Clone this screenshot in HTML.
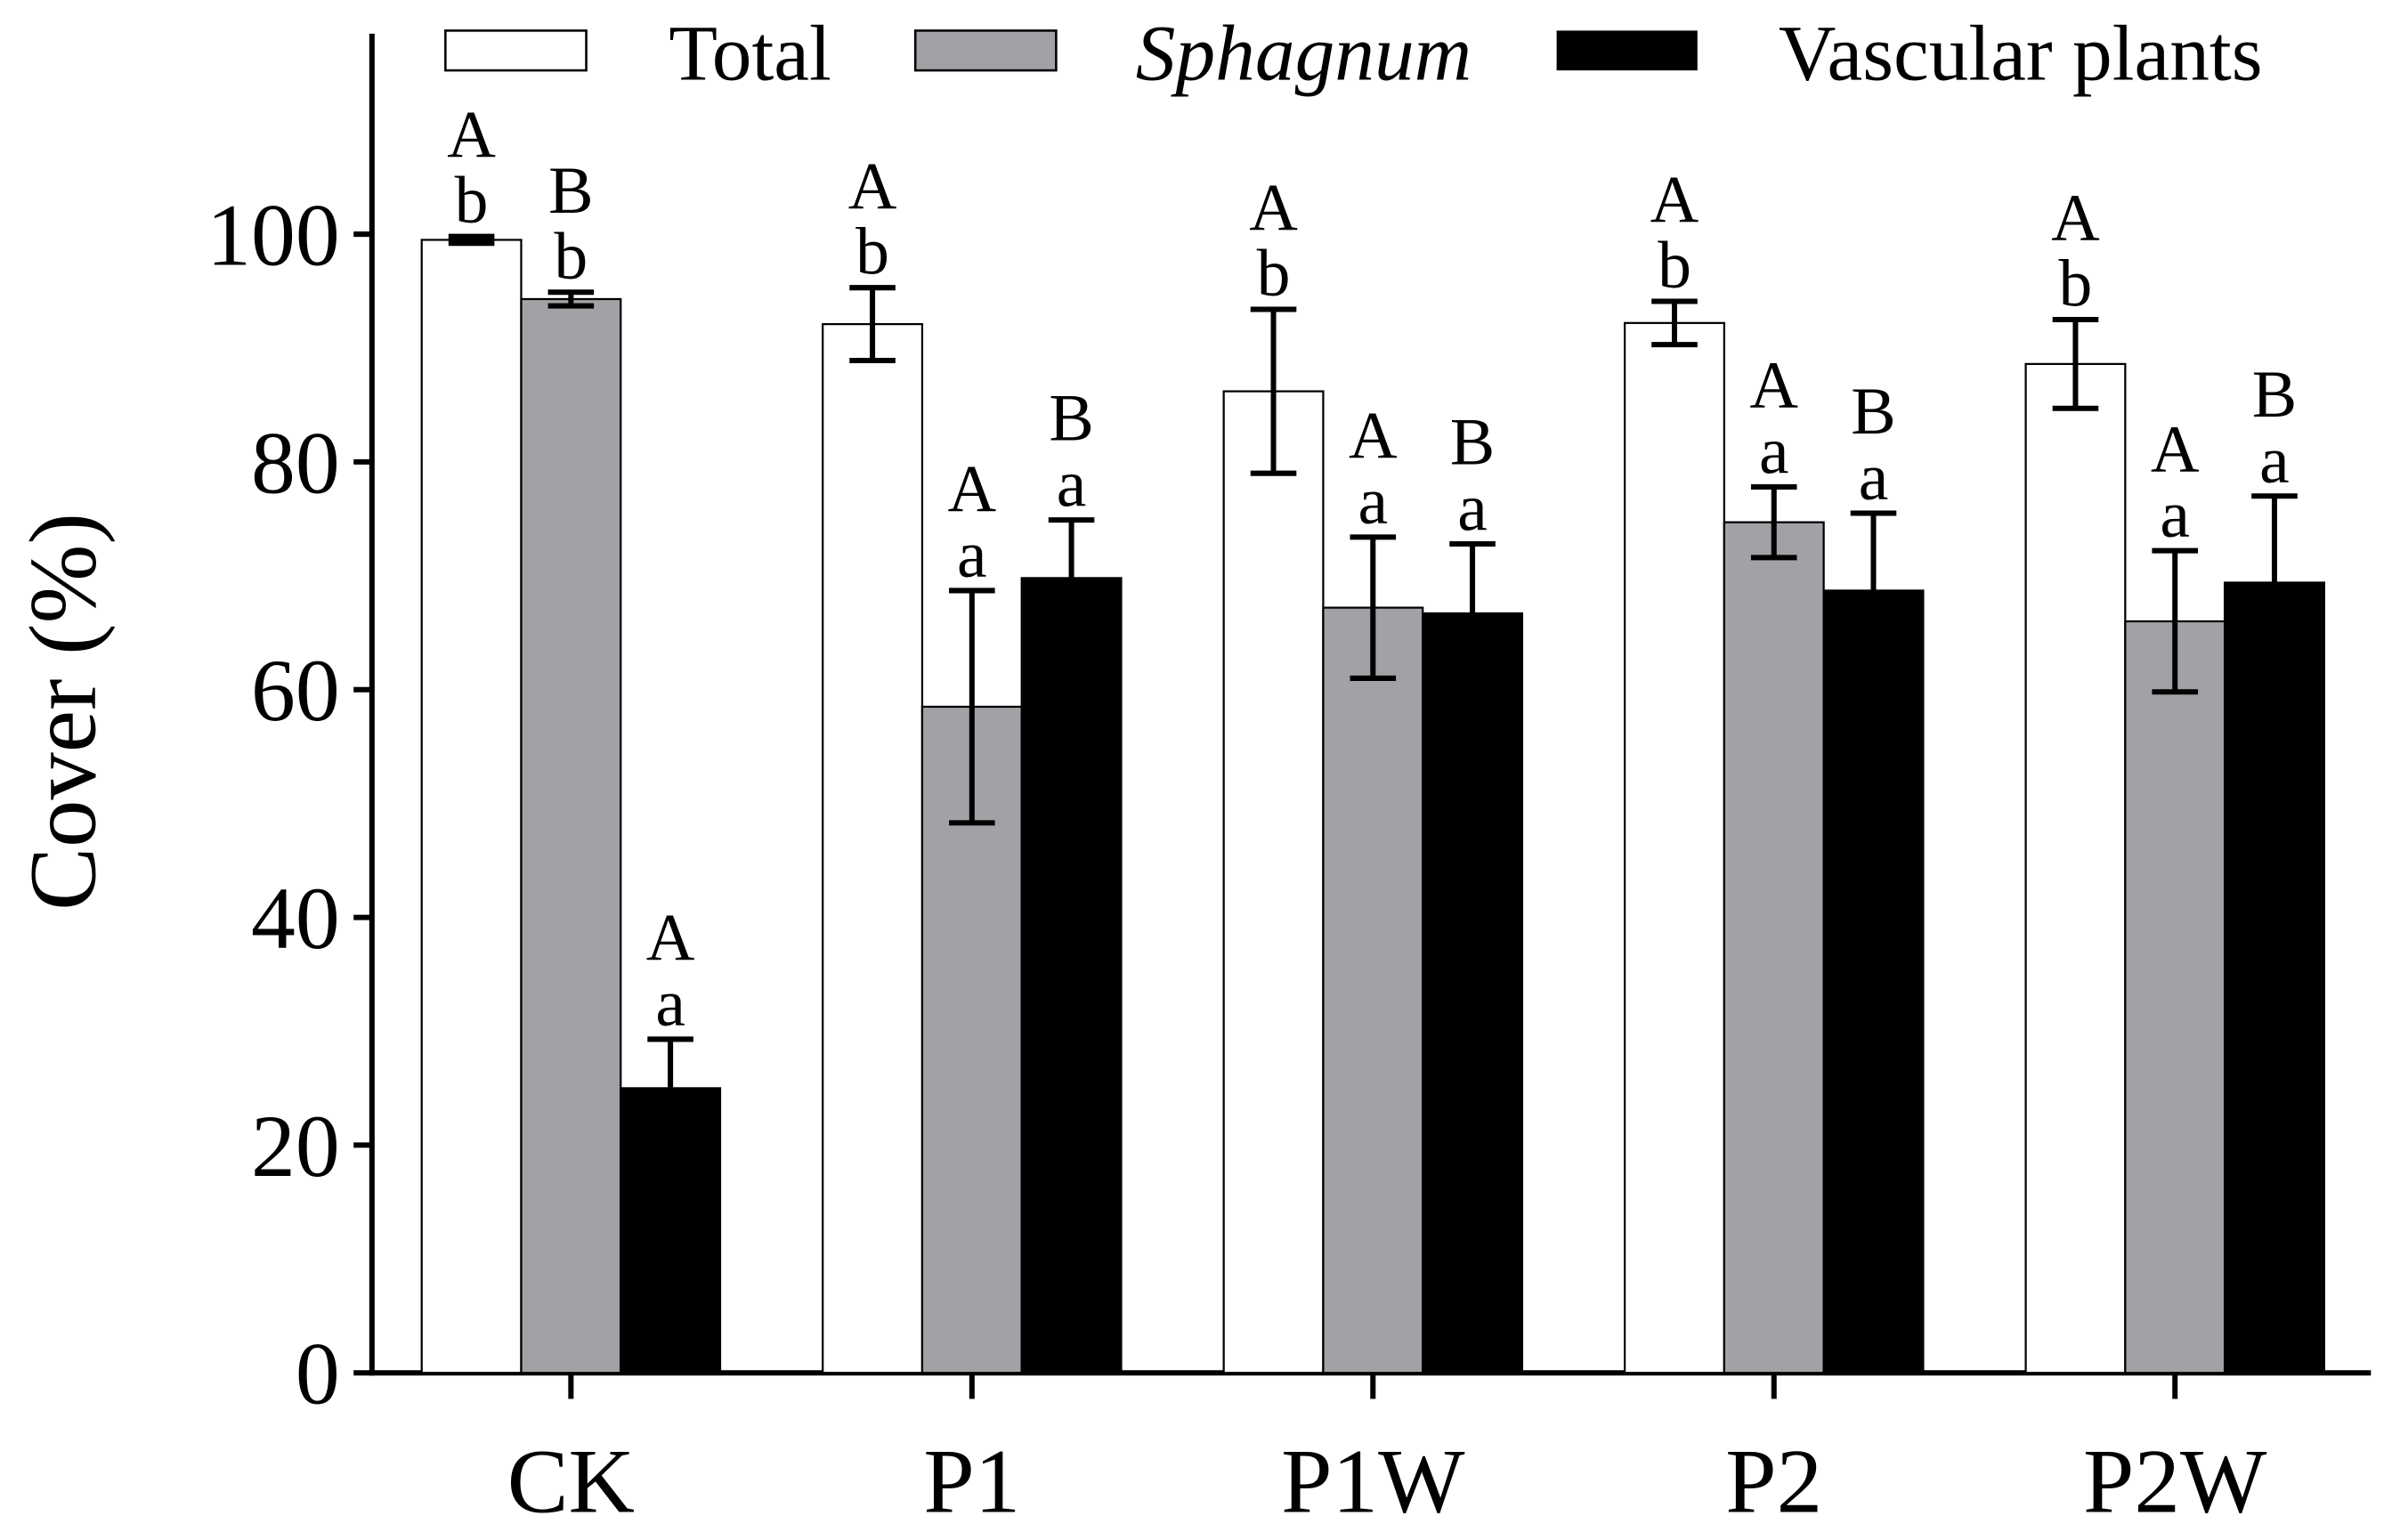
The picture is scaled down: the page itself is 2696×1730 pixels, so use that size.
<!DOCTYPE html>
<html><head><meta charset="utf-8"><style>html,body{margin:0;padding:0;background:#fff}svg{display:block}</style></head>
<body>
<svg id="chart" width="2696" height="1730" viewBox="0 0 1568 1006.2" xmlns="http://www.w3.org/2000/svg" font-family="'Liberation Serif', serif">
<g id="axes"></g>
<g id="bars"></g>
<g id="legend">
  <rect x="291" y="20" width="92" height="26" fill="#fff" stroke="#000" stroke-width="1.5"/>
  <text x="437" y="52" font-size="52">Total</text>
  <rect x="598" y="20" width="92" height="26" fill="#a2a1a6" stroke="#000" stroke-width="1.5"/>
  <text x="742" y="52" font-size="52" font-style="italic">Sphagnum</text>
  <rect x="1017" y="20" width="92" height="26" fill="#000"/>
  <text x="1162" y="52" font-size="52">Vascular plants</text>
</g>
</svg>
<script>
const categories = ["CK","P1","P1W","P2","P2W"];
const totalValues = [99.5,92.1,86.2,92.2,88.6];
const totalErrors = [0.3,3.2,7.2,1.9,3.9];
const sphagnumValues = [94.3,58.5,67.2,74.7,66.0];
const sphagnumErrors = [0.6,10.2,6.2,3.1,6.2];
const vascularValues = [25.0,69.8,66.7,68.7,69.4];
const vascularErrors = [4.3,5.1,6.1,6.8,7.6];
const totalUpper = ["A","A","A","A","A"];
const totalLower = ["b","b","b","b","b"];
const sphagnumUpper = ["B","A","A","A","A"];
const sphagnumLower = ["b","a","a","a","a"];
const vascularUpper = ["A","B","B","B","B"];
const vascularLower = ["a","a","a","a","a"];
const yTicks = [0,20,40,60,80,100];

const NS="http://www.w3.org/2000/svg";
const x0=243, yBase=897, yPerUnit=7.44, groupStart=373, groupStep=262, barW=65;
function yScale(v){return yBase - v*yPerUnit;}
function xScale(i){return groupStart + i*groupStep;}
function mk(tag, attrs, parent){const e=document.createElementNS(NS,tag);for(const k in attrs)e.setAttribute(k,attrs[k]);parent.appendChild(e);return e;}
const axes=document.getElementById('axes');
const bars=document.getElementById('bars');

const series=[
 {name:'total',vals:totalValues,errs:totalErrors,up:totalUpper,lo:totalLower,fill:'#fff',off:-1},
 {name:'sphagnum',vals:sphagnumValues,errs:sphagnumErrors,up:sphagnumUpper,lo:sphagnumLower,fill:'#a2a1a6',off:0},
 {name:'vascular',vals:vascularValues,errs:vascularErrors,up:vascularUpper,lo:vascularLower,fill:'#000',off:1}
];
series.forEach(s=>{
  s.vals.forEach((v,i)=>{
    const cx=xScale(i)+s.off*barW;
    const r=mk('rect',{x:cx-barW/2,y:yScale(v),width:barW,height:yBase-yScale(v),fill:s.fill,stroke:'#000','stroke-width':1.3},bars);
    
    
    const top=yScale(v+s.errs[i]), bot=yScale(v-s.errs[i]);
    const eb=mk('path',{d:`M${cx},${top}V${bot}M${cx-15},${top}H${cx+15}M${cx-15},${bot}H${cx+15}`,stroke:'#000','stroke-width':3.5,fill:'none'},bars);
    
    
    const t1=mk('text',{x:cx,y:top-9,'font-size':44,'text-anchor':'middle'},bars);
    t1.textContent=s.lo[i];
    
    
    const t2=mk('text',{x:cx,y:top-52,'font-size':44,'text-anchor':'middle'},bars);
    t2.textContent=s.up[i];
    
    
  });
});

const ya=mk('line',{x1:x0,y1:22,x2:x0,y2:yBase+1.75,stroke:'#000','stroke-width':3.5},axes);


const xa=mk('line',{x1:x0-1.75,y1:yBase,x2:1549,y2:yBase,stroke:'#000','stroke-width':3.5},axes);


yTicks.forEach(t=>{
  const y=yScale(t);
  const l=mk('line',{x1:231,y1:y,x2:x0,y2:y,stroke:'#000','stroke-width':3.5},axes);
  
  
  const tx=mk('text',{x:222,y:y+20,'font-size':58,'text-anchor':'end'},axes);
  tx.textContent=t;
  
  
});
categories.forEach((c,i)=>{
  const x=xScale(i);
  const l=mk('line',{x1:x,y1:yBase,x2:x,y2:914,stroke:'#000','stroke-width':3.5},axes);
  
  
  const tx=mk('text',{x:x,y:988,'font-size':60,'text-anchor':'middle'},axes);
  tx.textContent=c;
  
  
});
const yt=mk('text',{x:0,y:0,'font-size':62,'text-anchor':'middle',transform:'translate(62,465) rotate(-90)'},axes);
yt.textContent='Cover (%)';


</script>
</body></html>
